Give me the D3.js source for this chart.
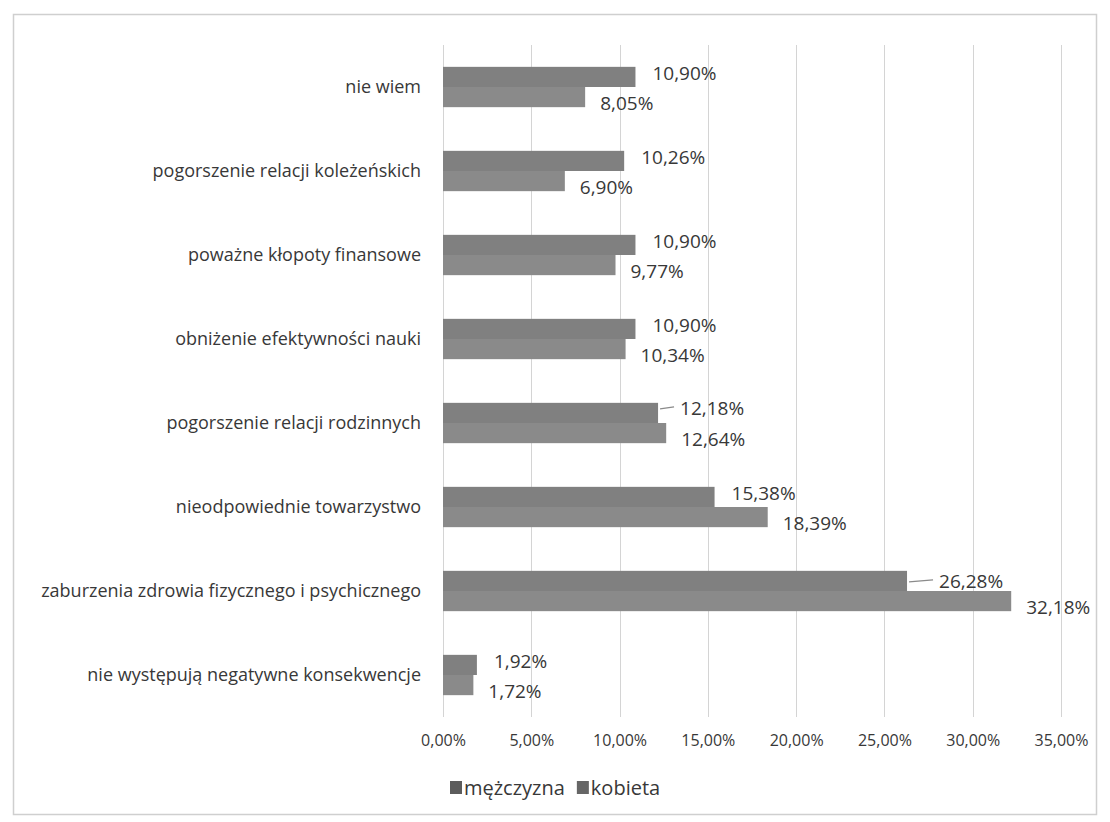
<!DOCTYPE html>
<html>
<head>
<meta charset="utf-8">
<script src="https://cdn.jsdelivr.net/npm/d3@7"></script>
<style>
  html, body { margin: 0; padding: 0; background: #ffffff; }
  svg { display: block; font-family: "Open Sans", "DejaVu Sans", sans-serif; }
</style>
</head>
<body>
<svg id="chart" width="1110" height="822"></svg>
<script>
// ---- data ----
const categories = [
  "nie wiem",
  "pogorszenie relacji koleżeńskich",
  "poważne kłopoty finansowe",
  "obniżenie efektywności nauki",
  "pogorszenie relacji rodzinnych",
  "nieodpowiednie towarzystwo",
  "zaburzenia zdrowia fizycznego i psychicznego",
  "nie występują negatywne konsekwencje"
];
const seriesNames = ["mężczyzna", "kobieta"];
const menValues   = [10.90, 10.26, 10.90, 10.90, 12.18, 15.38, 26.28, 1.92];
const womenValues = [ 8.05,  6.90,  9.77, 10.34, 12.64, 18.39, 32.18, 1.72];
const tickValues  = [0, 5, 10, 15, 20, 25, 30, 35];

// ---- layout ----
const svg = d3.select("#chart");
const plot = { left: 443, right: 1061, top: 45, bottom: 717 };
const textColor = "#383838";
const colors = ["#808080", "#8a8a8a"];
const legendColors = ["#5c5c5c", "#666666"];
const fmt = v => v.toFixed(2).replace(".", ",") + "%";

// outer frame
svg.append("rect")
  .attr("x", 13.5).attr("y", 14.5).attr("width", 1083).attr("height", 800)
  .attr("fill", "none").attr("stroke", "#cfcfcf").attr("stroke-width", 1.5);

const x = d3.scaleLinear().domain([0, 35]).range([plot.left, plot.right]);
const y = d3.scaleBand().domain(categories).range([plot.top, plot.bottom])
  .paddingInner(0.52).paddingOuter(0.26);
const ySub = d3.scaleBand().domain(seriesNames).range([0, y.bandwidth()]);

// grid lines
svg.append("g").selectAll("line").data(tickValues).join("line")
  .attr("x1", d => Math.round(x(d)) + 0.5).attr("x2", d => Math.round(x(d)) + 0.5)
  .attr("y1", plot.top).attr("y2", plot.bottom)
  .attr("stroke", "#d4d4d4").attr("stroke-width", 1);

// x axis tick labels
const xAxis = d3.axisBottom(x).tickValues(tickValues).tickSize(0).tickPadding(0)
  .tickFormat(d => d.toFixed(2).replace(".", ",") + "%");
const gx = svg.append("g").attr("transform", `translate(0,${plot.bottom + 29})`).call(xAxis);
gx.select(".domain").remove();
gx.selectAll("text").attr("font-size", 16).attr("fill", textColor)
  .attr("font-family", "Open Sans").attr("dy", 0);

// y axis category labels
const yAxis = d3.axisLeft(y).tickSize(0).tickPadding(0);
const gy = svg.append("g").attr("transform", `translate(${plot.left - 22},0)`).call(yAxis);
gy.select(".domain").remove();
gy.selectAll("text").attr("font-size", 18).attr("fill", textColor)
  .attr("font-family", "Open Sans").attr("dy", "0.32em");

// bars
const rows = categories.map((c, i) => ({ c, vals: [menValues[i], womenValues[i]] }));
const groups = svg.append("g").selectAll("g").data(rows).join("g")
  .attr("transform", d => `translate(0,${y(d.c)})`);

groups.selectAll("rect").data(d => d.vals.map((v, k) => ({ v, k }))).join("rect")
  .attr("x", x(0))
  .attr("y", d => ySub(seriesNames[d.k]))
  .attr("width", d => x(d.v) - x(0))
  .attr("height", ySub.bandwidth())
  .attr("fill", d => colors[d.k]);

// data labels
const labelGap = [17, 15];
const labelDy = [-4, 6];
const leaderIdx = { "pogorszenie relacji rodzinnych": 22, "zaburzenia zdrowia fizycznego i psychicznego": 32 };

groups.each(function (d) {
  const g = d3.select(this);
  d.vals.forEach((v, k) => {
    const cy = ySub(seriesNames[k]) + ySub.bandwidth() / 2;
    let gap = labelGap[k];
    let dy = labelDy[k];
    if (k === 0 && leaderIdx[d.c]) {
      gap = leaderIdx[d.c];
      dy = d.c.startsWith("zab") ? 0 : -5;
      g.append("path")
        .attr("d", `M${x(v) + 2},${cy + dy + 1} L${x(v) + gap - 6},${cy + dy - 1}`)
        .attr("stroke", "#8a8a8a").attr("stroke-width", 1.2).attr("fill", "none");
    }
    g.append("text")
      .attr("x", x(v) + gap)
      .attr("y", cy + dy)
      .attr("dy", "0.35em")
      .attr("font-size", 19)
      .attr("fill", textColor)
      .text(fmt(v));
  });
});

// legend
const legend = svg.append("g").attr("transform", "translate(450,788)");
let lx = 0;
seriesNames.forEach((name, k) => {
  legend.append("rect").attr("x", lx).attr("y", -7).attr("width", 12).attr("height", 13)
    .attr("fill", legendColors[k]);
  const t = legend.append("text").attr("x", lx + 14).attr("y", 0).attr("dy", "0.35em")
    .attr("font-size", 20).attr("fill", textColor).text(name);
  lx += 14 + t.node().getComputedTextLength() + 12;
});
</script>
</body>
</html>
